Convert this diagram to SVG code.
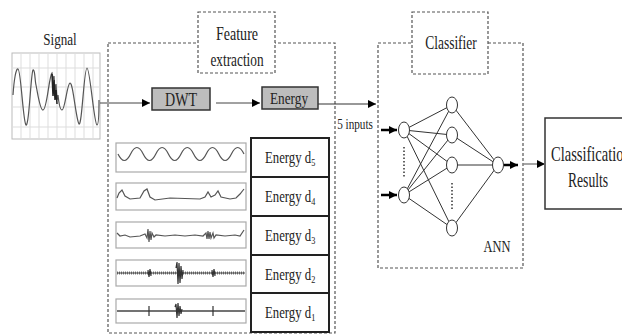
<svg xmlns="http://www.w3.org/2000/svg" width="622" height="336" viewBox="0 0 622 336">
<defs>
<marker id="ah" viewBox="0 0 10 10" refX="10" refY="5" markerWidth="8" markerHeight="8" markerUnits="userSpaceOnUse" orient="auto"><path d="M0,0 L10,5 L0,10 z" fill="#000"/></marker>
</defs>
<style>
text{font-family:"Liberation Serif","Times New Roman",serif;fill:#222}
.dash{fill:#fff;stroke:#555;stroke-width:1.2;stroke-dasharray:3 2}
.gbox{fill:#bdbdbd;stroke:#333;stroke-width:1.5}
.wbox{fill:#fff;stroke:#aaa;stroke-width:1.2}
.ebox{fill:#fff;stroke:#222;stroke-width:2}
.wave{fill:none;stroke:#555;stroke-width:1.2}
.grid{stroke:#ddd;stroke-width:1}
.conn{stroke:#333;stroke-width:1;fill:none}
.neuron{fill:#fff;stroke:#333;stroke-width:1}
.dot{stroke:#333;stroke-width:1.5;stroke-dasharray:1.5 2}
</style>
<g font-family="Liberation Serif, Times New Roman, serif">

<g id="signal">
<text transform="translate(60,45) scale(0.77,1)" font-size="17" text-anchor="middle">Signal</text>
<rect x="12" y="53" width="88" height="86" fill="#fff" stroke="#bbb" stroke-width="1"/>
<g class="grid">
<line x1="21" y1="53" x2="21" y2="139"/><line x1="30" y1="53" x2="30" y2="139"/><line x1="39" y1="53" x2="39" y2="139"/><line x1="48" y1="53" x2="48" y2="139"/><line x1="57" y1="53" x2="57" y2="139"/><line x1="66" y1="53" x2="66" y2="139"/><line x1="75" y1="53" x2="75" y2="139"/><line x1="84" y1="53" x2="84" y2="139"/><line x1="93" y1="53" x2="93" y2="139"/>
<line x1="12" y1="68" x2="100" y2="68"/><line x1="12" y1="87" x2="100" y2="87"/><line x1="12" y1="107" x2="100" y2="107"/><line x1="12" y1="127" x2="100" y2="127"/>
</g>
<path class="wave" stroke-width="1.5" d="M13,95 C14,80 16,68 18,69 C21,70 23,122 26,125 C29,127 31,72 33,70 C35,69 35,82 36,85 C38,95 40,110 43,110 C47,110 49,76 52,73 L53,80 L54,76 L55,92 L56,84 L57,100 L58,95 C59,105 60,110 62,110 C65,110 67,84 70,83 C73,82 76,120 79,124 C82,126 84,68 87,68 C90,68 94,124 97,125 C99,125 99,105 99,100"/>
<path d="M52,74 L53,96 L54,80 L55,100 L56,90 L57,104" fill="none" stroke="#222" stroke-width="1.5"/>
</g>

<g id="feature-extraction">
<rect class="dash" x="108" y="43" width="227" height="290"/>
<rect class="dash" x="198" y="12" width="77" height="61"/>
<text transform="translate(237,40) scale(0.78,1)" font-size="18" text-anchor="middle">Feature</text>
<text transform="translate(237,66) scale(0.74,1)" font-size="18" text-anchor="middle">extraction</text>
</g>

<g id="dwt">
<rect class="gbox" x="152" y="88" width="58" height="22"/>
<text transform="translate(181,106) scale(0.78,1)" font-size="18" text-anchor="middle">DWT</text>
</g>

<g id="energy">
<rect class="gbox" x="262" y="87" width="56" height="22"/>
<text transform="translate(289,104) scale(0.78,1)" font-size="17" text-anchor="middle">Energy</text>
</g>

<g id="waveforms">
<rect class="wbox" x="116" y="143" width="130" height="29"/>
<path class="wave" stroke-width="1.5" d="M118,154 q6.3,13 12.6,0 t12.6,0 t12.6,0 t12.6,0 t12.6,0 t12.6,0 t12.6,0 t12.6,0 t12.6,0 t12.6,0"/>
<rect class="wbox" x="116" y="183" width="130" height="27"/>
<path class="wave" d="M117,198 L119,193 L122,190 L125,196 L130,199 L140,198 L144,191 L147,189 L150,197 L155,200 L170,198 L200,199 L205,197 L208,192 L211,197 L215,195 L218,191 L221,197 L230,199 L236,198 L240,194 L244,189"/>
<rect class="wbox" x="116" y="222" width="130" height="26"/>
<path class="wave" d="M117,233 L120,236 L125,235 L130,237 L140,236 L145,234 L147,238 L148,229 L149,242 L150,231 L151,240 L152,233 L154,237 L156,235 L165,236 L175,235 L185,236 L195,235 L203,236 L206,233 L207,239 L208,231 L209,239 L210,232 L211,238 L213,233 L214,238 L216,235 L225,236 L235,235 L240,236 L244,230"/>
<rect class="wbox" x="116" y="260" width="130" height="26"/>
<line x1="117" y1="273" x2="245" y2="273" stroke="#777" stroke-width="3" stroke-dasharray="1 1"/>
<line x1="117" y1="273" x2="245" y2="273" stroke="#444" stroke-width="1"/>
<path d="M148,270 L149,277 L150,269 L151,276 M176,268 L177,262 L178,284 L179,263 L180,283 L181,266 L182,279 L183,270 M212,270 L213,277 L214,269 L215,276" fill="none" stroke="#333" stroke-width="1.2"/>
<rect class="wbox" x="116" y="299" width="130" height="24"/>
<line x1="117" y1="311" x2="245" y2="311" stroke="#444" stroke-width="1.3"/>
<path d="M149,306 L149,316 M175,307 L176,304 L177,318 L178,303 L179,316 L180,306 L181,314 L182,309 M213,306 L213,316" fill="none" stroke="#333" stroke-width="1.2"/>
</g>

<g id="energy-levels">
<rect class="ebox" x="251" y="138" width="78" height="194"/>
<g stroke="#222" stroke-width="2"><line x1="251" y1="177" x2="329" y2="177"/><line x1="251" y1="216" x2="329" y2="216"/><line x1="251" y1="255" x2="329" y2="255"/><line x1="251" y1="293" x2="329" y2="293"/></g>
<g font-size="17">
<text transform="translate(265,163) scale(0.75,1)">Energy d<tspan font-size="11" dy="3">5</tspan></text>
<text transform="translate(265,202) scale(0.75,1)">Energy d<tspan font-size="11" dy="3">4</tspan></text>
<text transform="translate(265,241) scale(0.75,1)">Energy d<tspan font-size="11" dy="3">3</tspan></text>
<text transform="translate(265,280) scale(0.75,1)">Energy d<tspan font-size="11" dy="3">2</tspan></text>
<text transform="translate(265,318) scale(0.75,1)">Energy d<tspan font-size="11" dy="3">1</tspan></text>
</g>
</g>

<g id="classifier">
<rect class="dash" x="378" y="43" width="145" height="225"/>
<rect class="dash" x="412" y="12" width="76" height="62"/>
<text transform="translate(451,49) scale(0.75,1)" font-size="18" text-anchor="middle">Classifier</text>
<text transform="translate(497,252) scale(0.73,1)" font-size="17" text-anchor="middle">ANN</text>
</g>

<g id="ann">
<g class="conn">
<line x1="404" y1="130" x2="452" y2="105"/><line x1="404" y1="130" x2="452" y2="135"/><line x1="404" y1="130" x2="452" y2="165"/><line x1="404" y1="130" x2="452" y2="228"/>
<line x1="404" y1="195" x2="452" y2="105"/><line x1="404" y1="195" x2="452" y2="135"/><line x1="404" y1="195" x2="452" y2="165"/><line x1="404" y1="195" x2="452" y2="228"/>
<line x1="452" y1="105" x2="498" y2="165"/><line x1="452" y1="135" x2="498" y2="165"/><line x1="452" y1="165" x2="498" y2="165"/><line x1="452" y1="228" x2="498" y2="165"/>
</g>
<line class="dot" x1="404" y1="147" x2="404" y2="178"/>
<line class="dot" x1="452" y1="183" x2="452" y2="211"/>
<ellipse class="neuron" cx="404" cy="130" rx="5.5" ry="8"/>
<ellipse class="neuron" cx="404" cy="195" rx="5.5" ry="8"/>
<ellipse class="neuron" cx="452" cy="105" rx="5.5" ry="8"/>
<ellipse class="neuron" cx="452" cy="135" rx="5.5" ry="8"/>
<ellipse class="neuron" cx="452" cy="165" rx="5.5" ry="8"/>
<ellipse class="neuron" cx="452" cy="228" rx="5.5" ry="8"/>
<ellipse class="neuron" cx="498" cy="165" rx="5.5" ry="8"/>
</g>

<g id="results">
<rect x="545" y="118" width="90" height="91" fill="#fff" stroke="#333" stroke-width="1.5"/>
<text transform="translate(551,161) scale(0.66,1)" font-size="22">Classification</text>
<text transform="translate(588,187) scale(0.62,1)" font-size="22" text-anchor="middle">Results</text>
</g>

<g id="connectors">
<line x1="100" y1="103" x2="150" y2="103" stroke="#444" stroke-width="1" marker-end="url(#ah)"/>
<line x1="216" y1="103" x2="260" y2="103" stroke="#444" stroke-width="1" marker-end="url(#ah)"/>
<line x1="318" y1="104" x2="376" y2="104" stroke="#333" stroke-width="1.2" marker-end="url(#ah)"/>
<text transform="translate(355,129) scale(0.8,1)" font-size="14" text-anchor="middle">5 inputs</text>
<line x1="381" y1="130" x2="397" y2="130" stroke="#000" stroke-width="2.5" marker-end="url(#ah)"/>
<line x1="381" y1="195" x2="397" y2="195" stroke="#000" stroke-width="2.5" marker-end="url(#ah)"/>
<line x1="504" y1="165" x2="518" y2="165" stroke="#000" stroke-width="2.5" marker-end="url(#ah)"/>
<line x1="523" y1="164" x2="545" y2="164" stroke="#888" stroke-width="1.5" marker-end="url(#ah)"/>
</g>
</g>
</svg>
